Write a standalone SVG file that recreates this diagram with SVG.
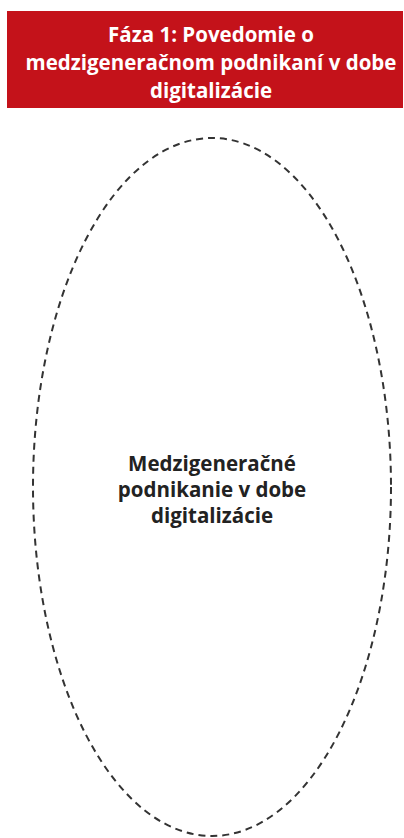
<svg xmlns="http://www.w3.org/2000/svg" width="404" height="838" viewBox="0 0 404 838">
  <style>
    .title { font-family: "Open Sans", "Noto Sans", "Liberation Sans", sans-serif; font-weight: bold; font-size: 20.5px; fill: #ffffff; text-anchor: middle; }
    .label { font-family: "Open Sans", "Noto Sans", "Liberation Sans", sans-serif; font-weight: bold; font-size: 20.5px; fill: #222222; text-anchor: middle; }
    .outline { fill: none; stroke: #333333; stroke-width: 2; stroke-dasharray: 7 5; }
  </style>
  <rect width="404" height="838" fill="#ffffff"/>
  <g id="phase-header">
    <rect x="7" y="11" width="396" height="97" fill="#c4121a"/>
    <text class="title" x="211" y="42">Fáza 1: Povedomie o</text>
    <text class="title" x="211" y="70">medzigeneračnom podnikaní v dobe</text>
    <text class="title" x="211" y="98">digitalizácie</text>
  </g>
  <g id="core-topic">
    <ellipse class="outline" cx="212" cy="487" rx="179" ry="349"/>
    <text class="label" x="212" y="471">Medzigeneračné</text>
    <text class="label" x="212" y="497">podnikanie v dobe</text>
    <text class="label" x="212" y="523">digitalizácie</text>
  </g>
  <g id="connectors"/>
</svg>
